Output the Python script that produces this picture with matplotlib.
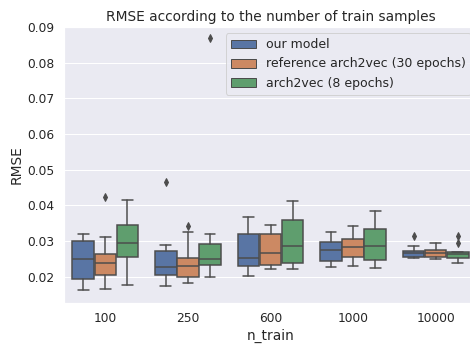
import colorsys
import matplotlib
matplotlib.use("Agg")
import matplotlib.pyplot as plt
import matplotlib.patches as mpatches
import seaborn as sns

sns.set_theme()

# n_train categories
n_train = ["100", "250", "600", "1000", "10000"]
models = ["our model", "reference arch2vec (30 epochs)", "arch2vec (8 epochs)"]

# box stats, one list per model (one value per n_train)
ours_whislo = [0.0162, 0.0175, 0.0201, 0.0226, 0.0251]
ours_q1 = [0.0194, 0.0206, 0.0231, 0.0245, 0.0256]
ours_med = [0.0249, 0.0228, 0.0252, 0.0276, 0.0265]
ours_q3 = [0.0299, 0.0271, 0.0320, 0.0298, 0.0273]
ours_whishi = [0.0321, 0.0290, 0.0366, 0.0324, 0.0286]
ours_fliers = [[], [0.0466], [], [], [0.0314]]

ref_whislo = [0.0165, 0.0181, 0.0222, 0.0229, 0.0250]
ref_q1 = [0.0206, 0.0199, 0.0233, 0.0256, 0.0255]
ref_med = [0.0238, 0.0230, 0.0267, 0.0284, 0.0267]
ref_q3 = [0.0264, 0.0253, 0.0321, 0.0306, 0.0276]
ref_whishi = [0.0310, 0.0324, 0.0346, 0.0341, 0.0294]
ref_fliers = [[0.0424], [0.0341], [], [], []]

a2v_whislo = [0.0178, 0.0199, 0.0221, 0.0225, 0.0239]
a2v_q1 = [0.0254, 0.0234, 0.0237, 0.0247, 0.0253]
a2v_med = [0.0294, 0.0250, 0.0286, 0.0287, 0.0263]
a2v_q3 = [0.0346, 0.0291, 0.0358, 0.0334, 0.0269]
a2v_whishi = [0.0414, 0.0320, 0.0412, 0.0384, 0.0269]
a2v_fliers = [[], [0.0868], [], [], [0.0313, 0.0294]]

series = [
    (ours_whislo, ours_q1, ours_med, ours_q3, ours_whishi, ours_fliers),
    (ref_whislo, ref_q1, ref_med, ref_q3, ref_whishi, ref_fliers),
    (a2v_whislo, a2v_q1, a2v_med, a2v_q3, a2v_whishi, a2v_fliers),
]

colors = [sns.desaturate(c, 0.75) for c in sns.color_palette("deep", 3)]
lum = min(colorsys.rgb_to_hls(*c)[1] for c in colors) * 0.6
gray = (lum, lum, lum)

fig = plt.figure(figsize=(470 / 72, 347 / 72), dpi=72)
ax = fig.add_axes([64 / 470, 1 - 302.7 / 347, 413 / 470, 275.7 / 347])

each = 0.8 / 3
for j, (lo, q1, med, q3, hi, fl) in enumerate(series):
    stats = [dict(whislo=lo[i], q1=q1[i], med=med[i], q3=q3[i], whishi=hi[i], fliers=fl[i])
             for i in range(len(n_train))]
    pos = [i + (j - 1) * each for i in range(len(n_train))]
    ax.bxp(stats, positions=pos, widths=each * 0.98, patch_artist=True, manage_ticks=False,
           boxprops=dict(facecolor=colors[j], edgecolor=gray, linewidth=1.5),
           medianprops=dict(color=gray, linewidth=1.5),
           whiskerprops=dict(color=gray, linewidth=1.5),
           capprops=dict(color=gray, linewidth=1.5),
           flierprops=dict(marker="d", markersize=5, markerfacecolor=gray,
                           markeredgecolor=gray, linestyle="none"))

ax.set_xticks(range(len(n_train)))
ax.set_xticklabels(n_train)
ax.set_xlim(-0.5, len(n_train) - 0.5)
ax.set_ylim(0.0127, 0.0900)
ax.xaxis.grid(False)
ax.tick_params(labelsize=12.3)
ax.set_xlabel("n_train", fontsize=13.8)
ax.set_ylabel("RMSE", fontsize=13.8)
ax.set_title("RMSE according to the number of train samples", fontsize=13.8)

handles = [mpatches.Patch(facecolor=colors[j], edgecolor=gray, label=models[j]) for j in range(3)]
ax.legend(handles=handles, loc="upper right", fontsize=12.5)

fig.savefig("out.png", dpi=72)
